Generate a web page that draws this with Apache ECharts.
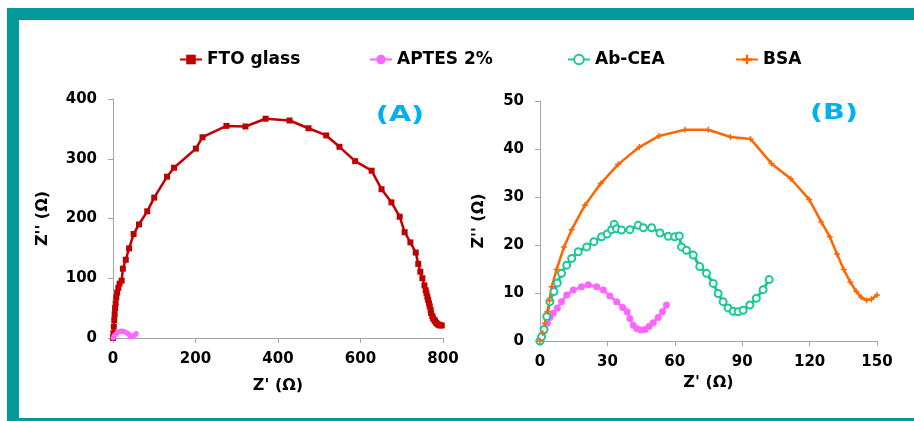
<!DOCTYPE html>
<html><head><meta charset="utf-8">
<script src="https://cdn.jsdelivr.net/npm/echarts@6/dist/echarts.min.js"></script>
<style>html,body{margin:0;padding:0;background:#fff}#c{width:914px;height:421px}</style>
</head><body><div id="c"></div>
<script>
const seriesNames = ['FTO glass', 'APTES 2%', 'Ab-CEA', 'BSA'];
const panelLabels = ['(A)', '(B)'];
const ticksA = { x: [0, 200, 400, 600, 800], y: [0, 100, 200, 300, 400] };
const ticksB = { x: [0, 30, 60, 90, 120, 150], y: [0, 10, 20, 30, 40, 50] };

const ftoGlass = [[0,0],[1,8],[2,19],[3,30],[4,40],[5,50],[6.5,58],[8,68],[10,76],[13,84],[16,91],[21,96],[24,116],[31,131],[39,150],[50,174],[63,190],[83,212],[100,235],[131,270],[148,285],[201,317],[217,336],[275,355],[321,354],[370,367],[428,364],[474,351],[517,339],[549,320],[587,296],[627,280],[651,249],[675,227],[695,203],[707,177],[721,160],[734,143],[740,124],[745,111],[750,100],[755,88],[758,80],[760,75],[762,69],[764,64],[766,58],[768,53],[770,47],[771,42],[774,37],[776,33],[779,30],[781,28],[784,25],[787,23],[790,22],[793,21],[797,21]];

const aptes = [[0,0],[0.7,0.9],[1.8,2.1],[3.3,3.7],[4.4,4.9],[5.9,5.8],[7.7,6.9],[9.6,8.2],[11.9,9.6],[14.8,10.6],[18.5,11.3],[21.5,11.7],[25.2,11.3],[28.2,10.6],[31.1,9.4],[34.1,8.2],[36.8,7.0],[38.8,6.1],[40.0,4.7],[41.5,3.3],[43.0,2.6],[44.8,2.3],[46.7,2.4],[48.5,3.0],[50.4,3.8],[52.6,4.9],[54.5,6.1],[56.3,7.5]];

const abCea = [[0,0],[0.7,0.9],[1.8,2.4],[3.0,5.1],[4.4,8.2],[6.2,10.3],[7.7,12.1],[9.6,14.1],[11.9,15.8],[14.1,17.2],[17.0,18.6],[20.8,19.6],[24.0,20.7],[27.4,21.7],[29.9,22.3],[31.9,23.2],[33.0,24.3],[34.1,23.4],[36.3,23.1],[40.0,23.2],[43.7,24.1],[46.0,23.6],[49.7,23.6],[53.4,22.5],[57.1,21.8],[60.0,21.7],[62.0,21.9],[63.0,19.6],[65.2,18.9],[68.2,17.9],[71.1,15.5],[74.1,14.1],[77.1,12.0],[79.3,9.9],[81.5,8.2],[83.7,6.9],[86.0,6.2],[88.2,6.1],[90.4,6.4],[93.4,7.5],[96.3,8.9],[99.3,10.7],[102.0,12.8]];

const bsa = [[0,0],[1.2,1.6],[2.2,3.7],[3.3,6.1],[4.2,8.4],[5.2,11.3],[7.4,14.9],[10.7,19.6],[14.1,23.2],[20.0,28.3],[27.0,32.8],[34.8,36.8],[44.2,40.4],[52.9,42.7],[64.5,44.0],[74.9,44.0],[84.8,42.5],[93.7,42.1],[103.0,37.0],[111.6,33.8],[119.8,29.5],[125.2,24.8],[129.0,21.7],[132.2,18.1],[135.2,14.9],[138.1,12.3],[140.8,10.3],[143.0,9.1],[145.3,8.5],[147.5,8.7],[150.0,9.6]];

const colors = ['#C00000', '#FF66FF', '#1CC79A', '#FF6600'];
const FONT = 'DejaVu Sans';
const teal = '#029A98';
const plusPath = 'path://M3,0h2v3h3v2h-3v3h-2v-3h-3v-2h3z';

function axisCommon(ticks, name, isY, nameGap) {
  return {
    type: 'value', min: ticks[0], max: ticks[ticks.length - 1],
    interval: ticks[1] - ticks[0],
    name: name, nameLocation: 'middle', nameGap: nameGap,
    nameTextStyle: { fontFamily: FONT, fontWeight: 'bold', fontSize: 16, color: '#000' },
    axisLine: { show: true, onZero: false, lineStyle: { color: '#A6A6A6', width: 1 } },
    axisTick: { show: true, inside: false, length: 5, lineStyle: { color: '#A6A6A6' } },
    axisLabel: { fontFamily: FONT, fontWeight: 'bold', fontSize: 15, color: '#000', margin: isY ? 16 : 14 },
    splitLine: { show: false }
  };
}

const chart = echarts.init(document.getElementById('c'), null, { renderer: 'canvas' });

function mkLegend(name, left) {
  return {
    data: [name], left: left, top: 46, itemWidth: 22, itemHeight: 12, itemGap: 5,
    textStyle: { fontFamily: FONT, fontWeight: 'bold', fontSize: 17, color: '#000' },
    selectedMode: false
  };
}

const option = {
  animation: false,
  backgroundColor: '#fff',
  legend: [mkLegend(seriesNames[0], 174), mkLegend(seriesNames[1], 364), mkLegend(seriesNames[2], 562), mkLegend(seriesNames[3], 730)],
  grid: [
    { left: 113, right: 471, top: 99, bottom: 83, containLabel: false },
    { left: 540, right: 37, top: 101, bottom: 80, containLabel: false }
  ],
  xAxis: [
    Object.assign(axisCommon(ticksA.x, "Z' (Ω)", false, 40), { gridIndex: 0 }),
    Object.assign(axisCommon(ticksB.x, "Z' (Ω)", false, 34), { gridIndex: 1 })
  ],
  yAxis: [
    Object.assign(axisCommon(ticksA.y, "Z'' (Ω)", true, 62), { gridIndex: 0 }),
    Object.assign(axisCommon(ticksB.y, "Z'' (Ω)", true, 53), { gridIndex: 1 })
  ],
  series: [
    { name: seriesNames[0], type: 'line', xAxisIndex: 0, yAxisIndex: 0, data: ftoGlass,
      symbol: 'rect', symbolSize: 6, color: colors[0], lineStyle: { width: 2.5, color: colors[0] }, itemStyle: { color: colors[0] } },
    { name: seriesNames[1], type: 'line', xAxisIndex: 0, yAxisIndex: 0, data: aptes,
      symbol: 'circle', symbolSize: 5, color: colors[1], lineStyle: { width: 3, color: colors[1] }, itemStyle: { color: colors[1] } },
    { name: seriesNames[1], type: 'line', xAxisIndex: 1, yAxisIndex: 1, data: aptes,
      symbol: 'circle', symbolSize: 7, color: colors[1], lineStyle: { width: 2.5, color: colors[1] }, itemStyle: { color: colors[1] } },
    { name: seriesNames[2], type: 'line', xAxisIndex: 1, yAxisIndex: 1, data: abCea, z: 3,
      symbol: 'emptyCircle', symbolSize: 7, color: colors[2], lineStyle: { width: 3, color: colors[2] }, itemStyle: { color: colors[2], borderColor: colors[2], borderWidth: 1.5 } },
    { name: seriesNames[3], type: 'line', xAxisIndex: 1, yAxisIndex: 1, data: bsa,
      symbol: plusPath, symbolSize: 6, color: colors[3], lineStyle: { width: 2.5, color: colors[3] }, itemStyle: { color: colors[3] } }
  ],
  graphic: [
    { type: 'rect', shape: { x: 7, y: 8, width: 907, height: 12 }, style: { fill: teal }, silent: true },
    { type: 'rect', shape: { x: 7, y: 8, width: 12, height: 413 }, style: { fill: teal }, silent: true },
    { type: 'rect', shape: { x: 7, y: 418, width: 907, height: 3 }, style: { fill: teal }, silent: true },
    { type: 'text', x: 400, y: 115, scaleX: 1.3, style: { text: panelLabels[0], fontFamily: FONT, fontWeight: 'bold', fontSize: 22, fill: '#00B0F0', textAlign: 'center', textVerticalAlign: 'middle' } },
    { type: 'text', x: 834, y: 113, scaleX: 1.3, style: { text: panelLabels[1], fontFamily: FONT, fontWeight: 'bold', fontSize: 22, fill: '#00B0F0', textAlign: 'center', textVerticalAlign: 'middle' } }
  ]
};
chart.setOption(option);
</script></body></html>
